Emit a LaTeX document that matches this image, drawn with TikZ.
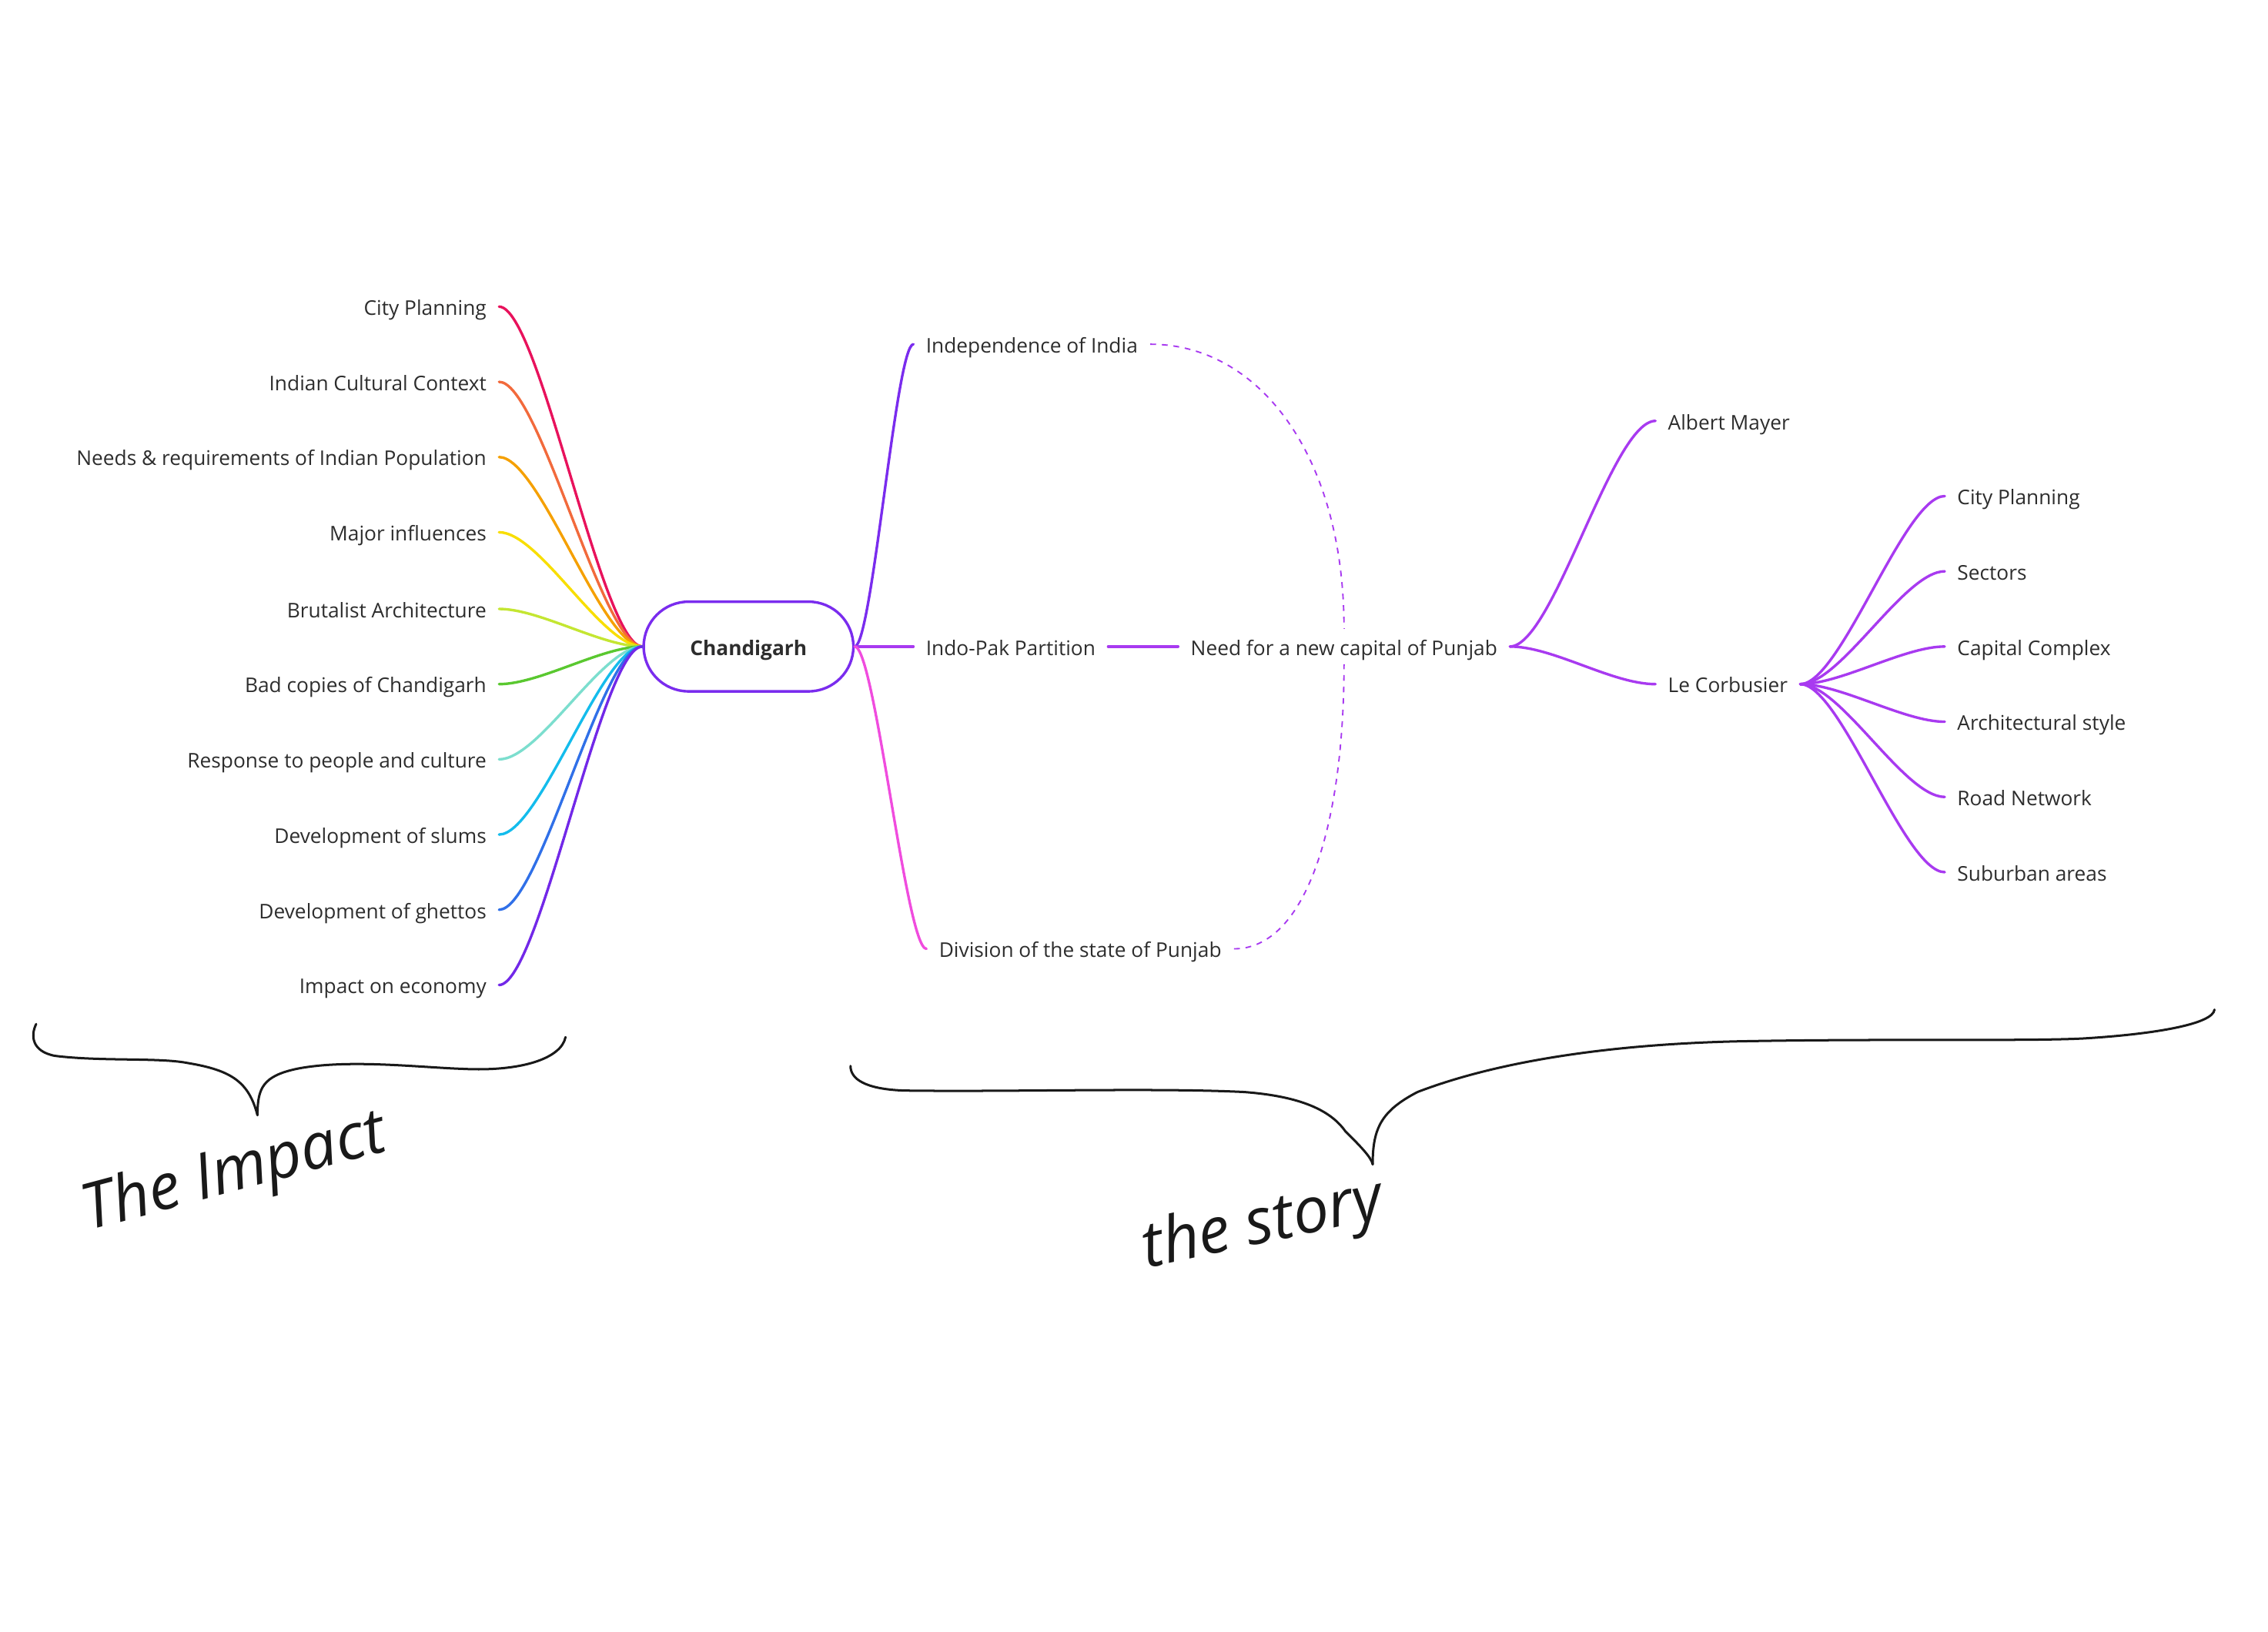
\documentclass[tikz,border=0pt]{standalone}
\usepackage{fontspec}
\setmainfont{Open Sans}
\definecolor{chdViolet}{RGB}{122,44,238}
\definecolor{chdPurple}{RGB}{168,58,240}
\definecolor{chdPink}{RGB}{240,76,222}
\definecolor{chdText}{RGB}{45,45,45}
\definecolor{impRose}{RGB}{232,18,92}
\definecolor{impCoral}{RGB}{242,106,60}
\definecolor{impOrange}{RGB}{245,160,0}
\definecolor{impYellow}{RGB}{248,222,0}
\definecolor{impLime}{RGB}{196,230,50}
\definecolor{impGreen}{RGB}{90,200,48}
\definecolor{impTeal}{RGB}{124,222,206}
\definecolor{impCyan}{RGB}{20,188,236}
\definecolor{impBlue}{RGB}{48,112,232}
\definecolor{impViolet}{RGB}{114,40,232}

\begin{document}
\begin{tikzpicture}[x=1pt, y=-1pt,
    topic/.style={font=\fontsize{14}{16}\selectfont, text=chdText, inner xsep=8.5pt,
                  inner ysep=0pt, text height=15pt, text depth=3pt},
    hub/.style={draw=chdViolet, line width=1.8pt, rounded corners=31pt, fill=white,
                minimum width=145pt, minimum height=62pt, text height=15pt, text depth=3pt,
                font=\fontsize{14}{16}\selectfont\bfseries, text=chdText},
    branch/.style={line width=1.8pt, line cap=round},
    link/.style={draw=chdPurple, line width=1pt, dash pattern=on 4pt off 4pt},
    brace/.style={draw=black!90, line width=1.6pt, line cap=round, line join=round},
    hand/.style={font=\fontsize{44}{46}\selectfont\itshape, text=black!90}
  ]
  \useasboundingbox (0,0) rectangle (1568,1128);

  % centre
  \node[hub] (city) at (517.5,447) {Chandigarh};

  % the impact
  \node[topic, anchor=east] (imp1)  at (345,212) {City Planning};
  \node[topic, anchor=east] (imp2)  at (345,264) {Indian Cultural Context};
  \node[topic, anchor=east] (imp3)  at (345,316) {Needs \& requirements of Indian Population};
  \node[topic, anchor=east] (imp4)  at (345,368) {Major influences};
  \node[topic, anchor=east] (imp5)  at (345,421) {Brutalist Architecture};
  \node[topic, anchor=east] (imp6)  at (345,473) {Bad copies of Chandigarh};
  \node[topic, anchor=east] (imp7)  at (345,525) {Response to people and culture};
  \node[topic, anchor=east] (imp8)  at (345,577) {Development of slums};
  \node[topic, anchor=east] (imp9)  at (345,629) {Development of ghettos};
  \node[topic, anchor=east] (imp10) at (345,681) {Impact on economy};

  \draw[branch, impRose]   (imp1.east)  .. controls +(28,0) and +(-28,0) .. (city.west);
  \draw[branch, impCoral]  (imp2.east)  .. controls +(28,0) and +(-28,0) .. (city.west);
  \draw[branch, impOrange] (imp3.east)  .. controls +(28,0) and +(-28,0) .. (city.west);
  \draw[branch, impYellow] (imp4.east)  .. controls +(28,0) and +(-28,0) .. (city.west);
  \draw[branch, impLime]   (imp5.east)  .. controls +(28,0) and +(-28,0) .. (city.west);
  \draw[branch, impGreen]  (imp6.east)  .. controls +(28,0) and +(-28,0) .. (city.west);
  \draw[branch, impTeal]   (imp7.east)  .. controls +(28,0) and +(-28,0) .. (city.west);
  \draw[branch, impCyan]   (imp8.east)  .. controls +(28,0) and +(-28,0) .. (city.west);
  \draw[branch, impBlue]   (imp9.east)  .. controls +(28,0) and +(-28,0) .. (city.west);
  \draw[branch, impViolet] (imp10.east) .. controls +(28,0) and +(-28,0) .. (city.west);

  % the story
  \node[topic, anchor=west] (indep)  at (631.5,238) {Independence of India};
  \node[topic, anchor=west] (indo)   at (631.5,447) {Indo-Pak Partition};
  \node[topic, anchor=west] (divide) at (640.5,656) {Division of the state of Punjab};
  \node[topic, anchor=west, inner ysep=3pt] (need) at (814.5,447) {Need for a new capital of Punjab};
  \node[topic, anchor=west] (mayer)  at (1144.5,291) {Albert Mayer};
  \node[topic, anchor=west] (corb)   at (1144.5,473) {Le Corbusier};

  \node[topic, anchor=west] (corb1) at (1344.5,343) {City Planning};
  \node[topic, anchor=west] (corb2) at (1344.5,395) {Sectors};
  \node[topic, anchor=west] (corb3) at (1344.5,447) {Capital Complex};
  \node[topic, anchor=west] (corb4) at (1344.5,499) {Architectural style};
  \node[topic, anchor=west] (corb5) at (1344.5,551) {Road Network};
  \node[topic, anchor=west] (corb6) at (1344.5,603) {Suburban areas};

  \draw[branch, chdViolet] (city.east) .. controls +(12,0) and +(-12,0) .. (indep.west);
  \draw[branch, chdPurple] (city.east) -- (indo.west);
  \draw[branch, chdPink]   (city.east) .. controls +(14,0) and +(-14,0) .. (divide.west);
  \draw[branch, chdPurple] (indo.east) -- (need.west);
  \draw[branch, chdPurple] (need.east) .. controls +(30,0) and +(-30,0) .. (mayer.west);
  \draw[branch, chdPurple] (need.east) .. controls +(30,0) and +(-30,0) .. (corb.west);
  \draw[branch, chdPurple] (corb.east) .. controls +(28,0) and +(-28,0) .. (corb1.west);
  \draw[branch, chdPurple] (corb.east) .. controls +(28,0) and +(-28,0) .. (corb2.west);
  \draw[branch, chdPurple] (corb.east) .. controls +(28,0) and +(-28,0) .. (corb3.west);
  \draw[branch, chdPurple] (corb.east) .. controls +(28,0) and +(-28,0) .. (corb4.west);
  \draw[branch, chdPurple] (corb.east) .. controls +(28,0) and +(-28,0) .. (corb5.west);
  \draw[branch, chdPurple] (corb.east) .. controls +(28,0) and +(-28,0) .. (corb6.west);

  % dashed relations
  \draw[link] (indep.east) .. controls +(75,0) and +(0,-120) .. (need.north);
  \draw[link] (divide.east) .. controls +(50,0) and +(0,110) .. (need.south);

  % hand drawn braces
  \draw[brace] (25,708) .. controls (21,716) and (22,727) .. (38,730)
    .. controls (70,734) and (110,731) .. (130,735)
    .. controls (160,740) and (172,748) .. (178,771);
  \draw[brace] (178,771) .. controls (178,752) and (182,744) .. (205,739)
    .. controls (240,732) and (290,738) .. (320,739)
    .. controls (360,741) and (388,732) .. (391,717);
  \draw[brace] (588,737) .. controls (588,746) and (598,753) .. (625,754)
    .. controls (700,755) and (800,752) .. (860,755)
    .. controls (900,758) and (920,768) .. (930,782)
    .. controls (940,792) and (948,800) .. (949,805);
  \draw[brace] (949,805) .. controls (949,780) and (955,768) .. (980,755)
    .. controls (1040,732) and (1120,722) .. (1200,720)
    .. controls (1300,718) and (1400,720) .. (1440,718)
    .. controls (1490,715) and (1530,708) .. (1531,698);

  \node[hand, rotate=15] (impact) at (162,812) {The Impact};
  \node[hand, rotate=12] (story)  at (873,848) {the story};
\end{tikzpicture}
\end{document}
